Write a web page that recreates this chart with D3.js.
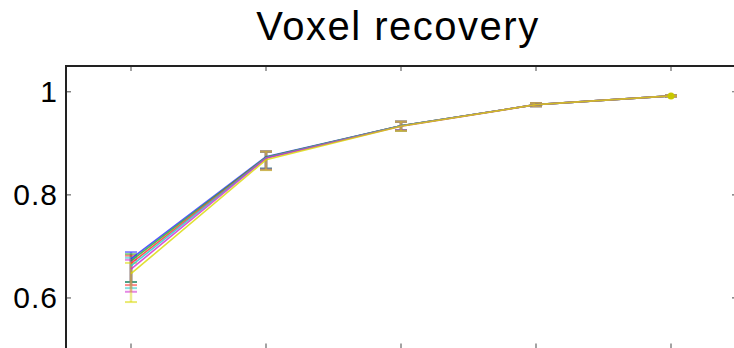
<!DOCTYPE html>
<html>
<head>
<meta charset="utf-8">
<script src="https://cdn.jsdelivr.net/npm/d3@7/dist/d3.min.js"></script>
<style>
  html, body { margin: 0; padding: 0; background: #fff; }
  svg { display: block; font-family: "Liberation Sans", Arial, Helvetica, sans-serif; }
</style>
</head>
<body>
<svg id="chart" width="734" height="348"></svg>
<script>
// Recovery rate per step, one series per condition
const steps = [1, 2, 3, 4, 5];
const seriesNames = ["b", "g", "r", "c", "m", "y"];
const seriesColors = ["#2b2bff", "#22b022", "#ff2a2a", "#22c8c8", "#d028d0", "#d8d800"];
const meanB = [0.676, 0.874, 0.934, 0.975, 0.992];
const meanG = [0.672, 0.873, 0.934, 0.975, 0.992];
const meanR = [0.667, 0.872, 0.934, 0.975, 0.992];
const meanC = [0.662, 0.872, 0.934, 0.975, 0.992];
const meanM = [0.656, 0.871, 0.933, 0.975, 0.992];
const meanY = [0.647, 0.868, 0.933, 0.975, 0.992];
const upperB = [0.689, 0.884, 0.942, 0.978, 0.993];
const upperG = [0.685, 0.884, 0.942, 0.978, 0.993];
const upperR = [0.682, 0.884, 0.942, 0.978, 0.993];
const upperC = [0.678, 0.884, 0.942, 0.978, 0.993];
const upperM = [0.674, 0.884, 0.942, 0.978, 0.993];
const upperY = [0.668, 0.884, 0.942, 0.978, 0.993];
const lowerB = [0.631, 0.851, 0.925, 0.972, 0.991];
const lowerG = [0.631, 0.851, 0.925, 0.972, 0.991];
const lowerR = [0.625, 0.849, 0.925, 0.972, 0.991];
const lowerC = [0.619, 0.849, 0.925, 0.972, 0.991];
const lowerM = [0.612, 0.849, 0.925, 0.972, 0.991];
const lowerY = [0.592, 0.848, 0.924, 0.972, 0.991];
const yTicks = [0.6, 0.8, 1];
const yTickLabels = ["0.6", "0.8", "1"];
const titleText = "Voxel recovery";

const means = [meanB, meanG, meanR, meanC, meanM, meanY];
const uppers = [upperB, upperG, upperR, upperC, upperM, upperY];
const lowers = [lowerB, lowerG, lowerR, lowerC, lowerM, lowerY];
const series = seriesNames.map((n, i) => ({
  name: n, color: seriesColors[i],
  points: steps.map((s, j) => ({ x: s, y: means[i][j], lo: lowers[i][j], hi: uppers[i][j] }))
}));

const svg = d3.select("#chart");
const plotL = 66, plotR = 737, plotT = 66, plotB = 349.5;

const x = d3.scaleLinear().domain([1, 5]).range([131, 671]);
const y = d3.scaleLinear().domain([0.5, 1.05]).range([plotB, plotT]);

// title
svg.append("text")
  .attr("x", 398).attr("y", 40)
  .attr("text-anchor", "middle")
  .attr("font-size", 40)
  .attr("letter-spacing", 1.5)
  .attr("fill", "#000")
  .text(titleText);

// ticks on all four sides, pointing inward
const tickG = svg.append("g").attr("stroke", "#666").attr("stroke-width", 1.2);
yTicks.forEach(t => {
  tickG.append("line").attr("x1", plotL).attr("x2", plotL + 5).attr("y1", y(t)).attr("y2", y(t));
  tickG.append("line").attr("x1", plotR - 5).attr("x2", plotR).attr("y1", y(t)).attr("y2", y(t));
});
steps.forEach(s => {
  tickG.append("line").attr("x1", x(s)).attr("x2", x(s)).attr("y1", plotT).attr("y2", plotT + 5);
  tickG.append("line").attr("x1", x(s)).attr("x2", x(s)).attr("y1", plotB - 6).attr("y2", plotB);
});

// y tick labels
svg.append("g").selectAll("text").data(yTicks).join("text")
  .attr("x", 58).attr("y", d => y(d))
  .attr("dy", "0.35em")
  .attr("text-anchor", "end")
  .attr("font-size", 30)
  .attr("letter-spacing", 1)
  .attr("fill", "#000")
  .text((d, i) => yTickLabels[i]);

// frame
svg.append("path")
  .attr("d", `M${plotL},${plotB} V${plotT} H${plotR} V${plotB}`)
  .attr("fill", "none").attr("stroke", "#222").attr("stroke-width", 2);

// error bars
const capW = 6;
const eb = svg.append("g");
series.forEach(s => {
  const g = eb.append("g");
  g.selectAll("line.v").data(s.points).join("line")
    .attr("x1", d => x(d.x)).attr("x2", d => x(d.x))
    .attr("y1", d => y(d.lo)).attr("y2", d => y(d.hi))
    .attr("stroke", s.color).attr("stroke-opacity", 0.45).attr("stroke-width", 2.5);
  g.selectAll("line.t").data(s.points).join("line")
    .attr("x1", d => x(d.x) - capW).attr("x2", d => x(d.x) + capW)
    .attr("y1", d => y(d.hi)).attr("y2", d => y(d.hi))
    .attr("stroke", s.color).attr("stroke-opacity", 0.55).attr("stroke-width", 2);
  g.selectAll("line.b").data(s.points).join("line")
    .attr("x1", d => x(d.x) - capW).attr("x2", d => x(d.x) + capW)
    .attr("y1", d => y(d.lo)).attr("y2", d => y(d.lo))
    .attr("stroke", s.color).attr("stroke-opacity", 0.55).attr("stroke-width", 2);
});

// mean lines
const line = d3.line().x(d => x(d.x)).y(d => y(d.y));
svg.append("g").selectAll("path").data(series).join("path")
  .attr("d", d => line(d.points))
  .attr("fill", "none")
  .attr("stroke", d => d.color)
  .attr("stroke-opacity", 0.8)
  .attr("stroke-width", 1.6);

// end marker of last series
const lastS = series[series.length - 1];
const lastP = lastS.points[lastS.points.length - 1];
svg.append("circle")
  .attr("cx", x(lastP.x)).attr("cy", y(lastP.y)).attr("r", 3.5)
  .attr("fill", "#c8c800");
</script>
</body>
</html>
